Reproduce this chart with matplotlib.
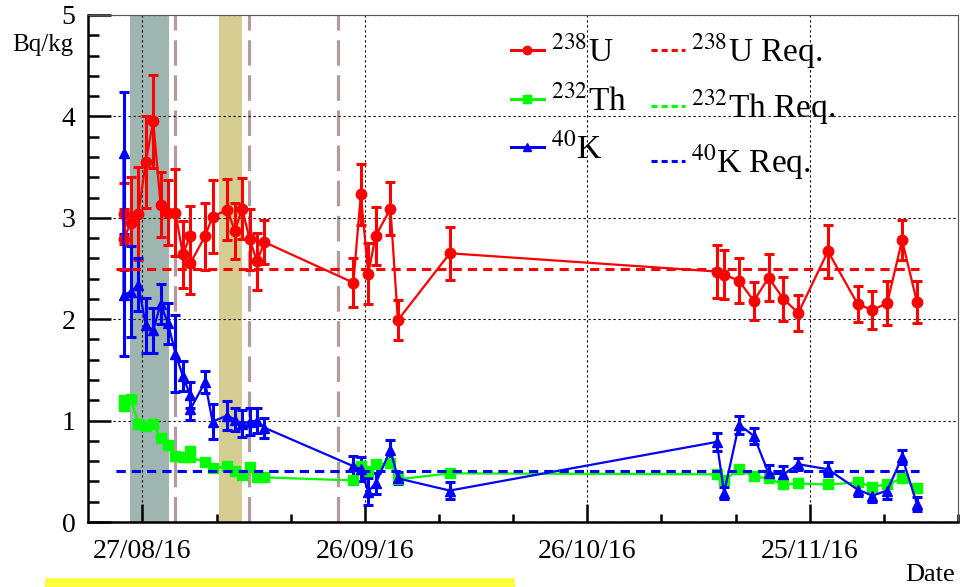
import matplotlib
matplotlib.use("Agg")
import matplotlib.pyplot as plt
import matplotlib.dates as mdates
from matplotlib.lines import Line2D
from matplotlib.patches import Rectangle
import numpy as np

plt.rcParams['font.family'] = ['Liberation Serif', 'DejaVu Serif']
plt.rcParams['mathtext.fontset'] = 'stix'

# sample dates (measurement around 11:00 each day)
dates = ['2016-08-24', '2016-08-24', '2016-08-25', '2016-08-26', '2016-08-27', '2016-08-28',
         '2016-08-29', '2016-08-30', '2016-08-31', '2016-09-01', '2016-09-02', '2016-09-02',
         '2016-09-04', '2016-09-05', '2016-09-07', '2016-09-08', '2016-09-09', '2016-09-10',
         '2016-09-11', '2016-09-12', '2016-09-24', '2016-09-25', '2016-09-26', '2016-09-27',
         '2016-09-29', '2016-09-30', '2016-10-07', '2016-11-12', '2016-11-13', '2016-11-15',
         '2016-11-17', '2016-11-19', '2016-11-21', '2016-11-23', '2016-11-27', '2016-12-01',
         '2016-12-03', '2016-12-05', '2016-12-07', '2016-12-09']

u238 = [3.04, 2.79, 2.95, 3.04, 3.55, 3.95, 3.13, 3.05, 3.05, 2.64, 2.82, 2.55,
        2.82, 3.01, 3.08, 2.87, 3.09, 2.79, 2.57, 2.76, 2.36, 3.23, 2.45, 2.82,
        3.09, 1.99, 2.65, 2.47, 2.44, 2.38, 2.18, 2.41, 2.20, 2.06, 2.67, 2.15,
        2.09, 2.16, 2.78, 2.17]
u238_err = [0.30, 0.30, 0.45, 0.46, 0.45, 0.46, 0.32, 0.32, 0.43, 0.33, 0.30, 0.30,
            0.33, 0.36, 0.30, 0.28, 0.30, 0.30, 0.28, 0.22, 0.24, 0.30, 0.30, 0.29,
            0.26, 0.20, 0.26, 0.26, 0.24, 0.22, 0.19, 0.23, 0.22, 0.18, 0.26, 0.18,
            0.19, 0.22, 0.20, 0.21]

th232 = [1.20, 1.14, 1.21, 0.97, 0.95, 0.97, 0.83, 0.76, 0.65, 0.64, 0.70, 0.64,
         0.59, 0.53, 0.55, 0.50, 0.46, 0.54, 0.44, 0.44, 0.41, 0.55, 0.50, 0.57,
         0.58, 0.42, 0.48, 0.47, 0.41, 0.52, 0.45, 0.43, 0.37, 0.38, 0.37, 0.39,
         0.35, 0.37, 0.43, 0.34]
th232_err = [0.04] * 20 + [0.03] * 20

k40 = [3.64, 2.24, 2.27, 2.34, 1.94, 1.89, 2.15, 1.96, 1.66, 1.44, 1.25, 1.11,
       1.38, 0.99, 1.05, 1.01, 0.97, 0.99, 1.00, 0.93, 0.55, 0.52, 0.30, 0.38,
       0.71, 0.43, 0.31, 0.79, 0.29, 0.96, 0.85, 0.48, 0.47, 0.57, 0.52, 0.32,
       0.26, 0.31, 0.64, 0.18]
k40_err = [0.60, 0.60, 0.45, 0.26, 0.27, 0.22, 0.20, 0.20, 0.38, 0.15, 0.13, 0.10,
           0.11, 0.17, 0.14, 0.11, 0.13, 0.13, 0.12, 0.10, 0.10, 0.12, 0.13, 0.10,
           0.10, 0.06, 0.08, 0.09, 0.06, 0.09, 0.08, 0.08, 0.08, 0.06, 0.07, 0.06,
           0.06, 0.08, 0.07, 0.07]

req_u, req_th, req_k = 2.5, 0.5, 0.5
req_span = ['2016-08-23T11:00', '2016-12-09T19:00']

teal_band = ['2016-08-25T08:00', '2016-08-30T13:00']
yellow_band = ['2016-09-06T09:00', '2016-09-09T12:00']
markers_v = ['2016-08-31T11:00', '2016-09-10T10:00', '2016-09-22T10:00']
xlim = ['2016-08-19T16:00', '2016-12-12T05:00']

x = np.array([np.datetime64(d + 'T11:00') for d in dates])
dt = lambda s: mdates.date2num(np.datetime64(s))

fig = plt.figure(figsize=(9.6, 5.87), dpi=100)
ax = fig.add_axes([88/960, 1 - 522/587, 870/960, 507/587])

ax.axvspan(dt(teal_band[0]), dt(teal_band[1]), color='#9fb5b0', lw=0, zorder=0)
ax.axvspan(dt(yellow_band[0]), dt(yellow_band[1]), color='#d5cd92', lw=0, zorder=0)
for v in markers_v:
    ax.axvline(dt(v), color='#b59c9c', lw=2.3, ls=(0, (8, 3)), zorder=1)

ax.grid(True, which='major', color='black', lw=0.8, ls=(0, (2, 2.5)), zorder=0.5)

ax.errorbar(x, u238, yerr=u238_err, color='#ff0000', marker='o', ms=7.5, lw=1.6,
            elinewidth=2.2, capsize=3.5, capthick=2.2, zorder=3)
ax.errorbar(x, th232, yerr=th232_err, color='#00ff00', marker='s', ms=7.5, lw=1.6,
            elinewidth=1.8, capsize=3, capthick=1.8, zorder=3)
ax.errorbar(x, k40, yerr=k40_err, color='#0000ff', marker='^', ms=7, lw=1.6,
            elinewidth=2.2, capsize=3.5, capthick=2.2, zorder=3)

rx = [np.datetime64(s) for s in req_span]
ax.plot(rx, [req_u, req_u], color='#ff0000', lw=2.2, ls=(0, (3, 2)), zorder=4)
ax.plot(rx, [req_th, req_th], color='#00ff00', lw=2.2, ls=(0, (3, 2)), zorder=4)
ax.plot(rx, [req_k, req_k], color='#0000ff', lw=2.2, ls=(0, (3, 2)), zorder=4)

ax.set_xlim(dt(xlim[0]), dt(xlim[1]))
ax.set_ylim(0, 5)

major = [np.datetime64('2016-08-27') + np.timedelta64(30 * i, 'D') for i in range(4)]
minor = [np.datetime64('2016-08-27') + np.timedelta64(10 * i, 'D') for i in range(12)]
ax.set_xticks(major)
ax.set_xticks(minor, minor=True)
ax.xaxis.set_major_formatter(mdates.DateFormatter('%d/%m/%y'))
ax.set_yticks(np.arange(0, 5.01, 1))
ax.set_yticks(np.arange(0, 5.01, 0.2), minor=True)

ax.tick_params(axis='both', which='both', direction='in', top=False, right=False,
               width=1.8, color='black')
ax.tick_params(axis='y', which='major', length=16.5, labelsize=20, pad=9)
ax.tick_params(axis='y', which='minor', length=8)
ax.tick_params(axis='x', which='major', length=13, labelsize=20, pad=12)
ax.tick_params(axis='x', which='minor', length=6)
for lbl in ax.get_xticklabels() + ax.get_yticklabels():
    lbl.set_fontfamily('Liberation Serif')

for s in ['left', 'bottom']:
    ax.spines[s].set_linewidth(1.8)
for s in ['top', 'right']:
    ax.spines[s].set_linewidth(0.8)
    ax.spines[s].set_color('#555555')

handles = [
    Line2D([], [], color='#ff0000', marker='o', ms=6, lw=2.2),
    Line2D([], [], color='#00ff00', marker='s', ms=6, lw=2.2),
    Line2D([], [], color='#0000ff', marker='^', ms=6, lw=2.2),
    Line2D([], [], color='#ff0000', lw=2.2, ls=(0, (2, 1.3))),
    Line2D([], [], color='#00ff00', lw=2.2, ls=(0, (2, 1.3))),
    Line2D([], [], color='#0000ff', lw=2.2, ls=(0, (2, 1.3))),
]
labels = [r'$^{238}$U', r'$^{232}$Th', r'$^{40}$K',
          r'$^{238}$U Req.', r'$^{232}$Th Req.', r'$^{40}$K Req.']
fig.legend(handles, labels, ncol=2, frameon=False, loc='upper left',
           bbox_to_anchor=(494/960, 1 - 15/587), fontsize=24, borderpad=0,
           handlelength=1.0, handletextpad=0.2, columnspacing=0.75, labelspacing=0.48)

fig.text(12/960, 1 - 45/587, 'Bq/kg', fontsize=18, ha='left', va='center')
fig.text(955/960, 1 - 575/587, 'Date', fontsize=19, ha='right', va='center')
fig.patches.append(Rectangle((45/960, 0), 470/960, 9/587, transform=fig.transFigure,
                             facecolor='#ffff40', edgecolor='none'))

fig.savefig('out.png', dpi=100)
